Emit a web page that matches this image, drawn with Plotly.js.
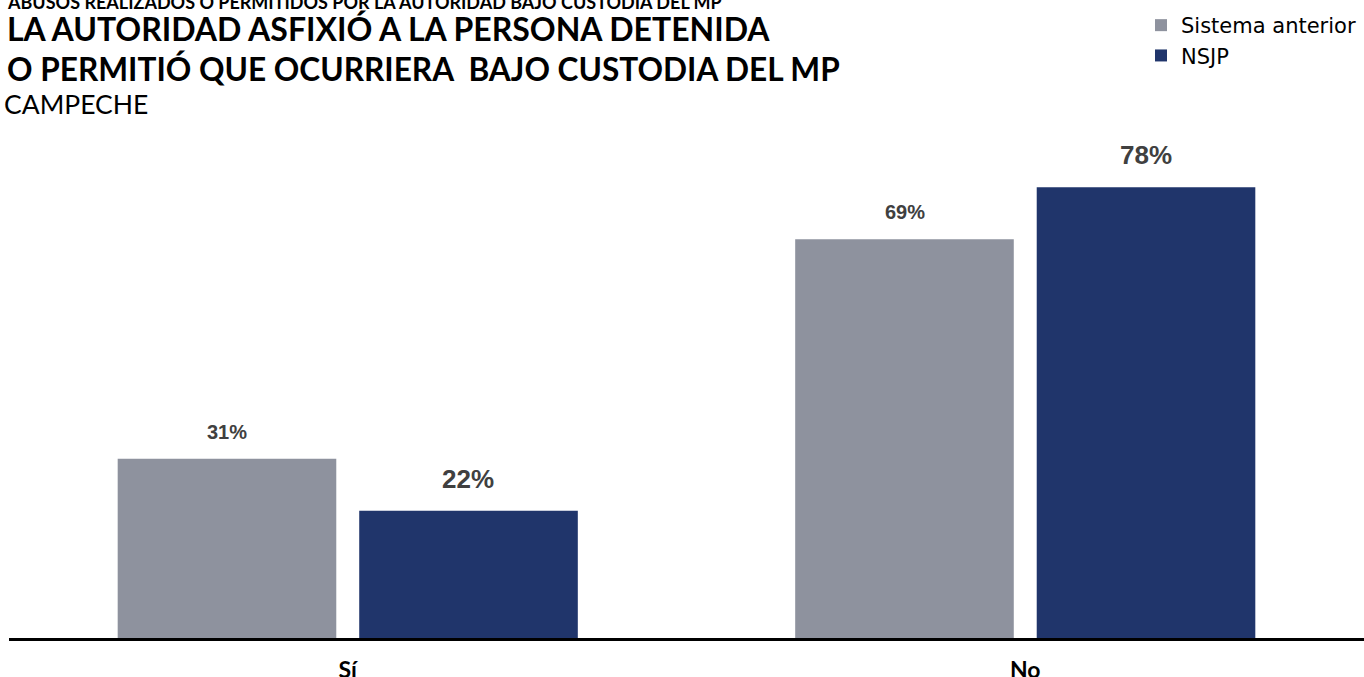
<!DOCTYPE html>
<html><head><meta charset="utf-8">
<script src="https://cdn.plot.ly/plotly-3.0.1.min.js"></script>
<style>html,body{margin:0;padding:0;background:#fff}#chart{width:1364px;height:677px}</style>
</head><body><div id="chart"></div>
<script>
const categories = ["Sí", "No"];
const seriesNames = ["Sistema anterior", "NSJP"];
const sistemaAnterior = [31, 69];
const nsjp = [22, 78];
const supTitle = "ABUSOS REALIZADOS O PERMITIDOS POR LA AUTORIDAD BAJO CUSTODIA DEL MP";
const titleLines = ["LA AUTORIDAD ASFIXIÓ A LA PERSONA DETENIDA", "O PERMITIÓ QUE OCURRIERA  BAJO CUSTODIA DEL MP"];
const subTitle = "CAMPECHE";

const colors = ["#8E929E", "#20356B"];
const values = [sistemaAnterior, nsjp];
const labelSizes = [20, 26];
const labelShift = [27, 32];
const offsets = [-0.178, 0.178];

const traces = values.map((v, i) => ({
  type: "bar", name: seriesNames[i], x: categories, y: v,
  marker: {color: colors[i]}, hoverinfo: "none"
}));

const annotations = [];
values.forEach((v, i) => {
  v.forEach((val, j) => {
    annotations.push({
      x: j + offsets[i], y: val, xref: "x", yref: "y",
      text: "<b>" + val + "%</b>", showarrow: false,
      yanchor: "middle", yshift: labelShift[i],
      font: {family: "Liberation Sans, Arial, sans-serif", size: labelSizes[i], color: "#404040"}
    });
  });
});
annotations.push({xref: "paper", yref: "paper", x: -0.003, y: (638 - 2) / 578, xanchor: "left", yanchor: "middle", showarrow: false,
  text: "<b>" + supTitle + "</b>", font: {family: "Lato", size: 18, color: "#000"}});
annotations.push({xref: "paper", yref: "paper", x: -0.003, y: (638 - 29) / 578, xanchor: "left", yanchor: "middle", showarrow: false,
  text: "<b>" + titleLines[0] + "</b>", font: {family: "Lato", size: 32, color: "#000"}});
annotations.push({xref: "paper", yref: "paper", x: -0.003, y: (638 - 69) / 578, xanchor: "left", yanchor: "middle", showarrow: false,
  text: "<b>" + titleLines[1] + "</b>", font: {family: "Lato", size: 31.6, color: "#000"}});
annotations.push({xref: "paper", yref: "paper", x: -0.005, y: (638 - 104) / 578, xanchor: "left", yanchor: "middle", showarrow: false,
  text: subTitle, font: {family: "Lato", size: 26.5, color: "#000"}});

const layout = {
  width: 1364, height: 677,
  margin: {l: 9, r: 0, t: 60, b: 39},
  paper_bgcolor: "#fff", plot_bgcolor: "#fff",
  barmode: "group", bargap: 0.287, bargroupgap: 0.095,
  xaxis: {range: [-0.5, 1.5], showline: true, linecolor: "#000", linewidth: 3,
    tickfont: {family: "Lato", size: 23, color: "#000"}, ticks: "", ticklabelstandoff: 9,
    showgrid: false, zeroline: false,
    tickvals: [0, 1], ticktext: categories.map(c => "<b>" + c + "</b>"), fixedrange: true},
  yaxis: {range: [0, 100], visible: false, fixedrange: true},
  showlegend: true,
  legend: {x: (1141 - 9) / 1355, y: (638 - 5) / 578, xanchor: "left", yanchor: "top",
    font: {family: "DejaVu Sans", size: 21, color: "#000"}, bgcolor: "rgba(0,0,0,0)", itemwidth: 30},
  annotations: annotations
};

Plotly.newPlot("chart", traces, layout, {staticPlot: true, displayModeBar: false});
</script></body></html>
